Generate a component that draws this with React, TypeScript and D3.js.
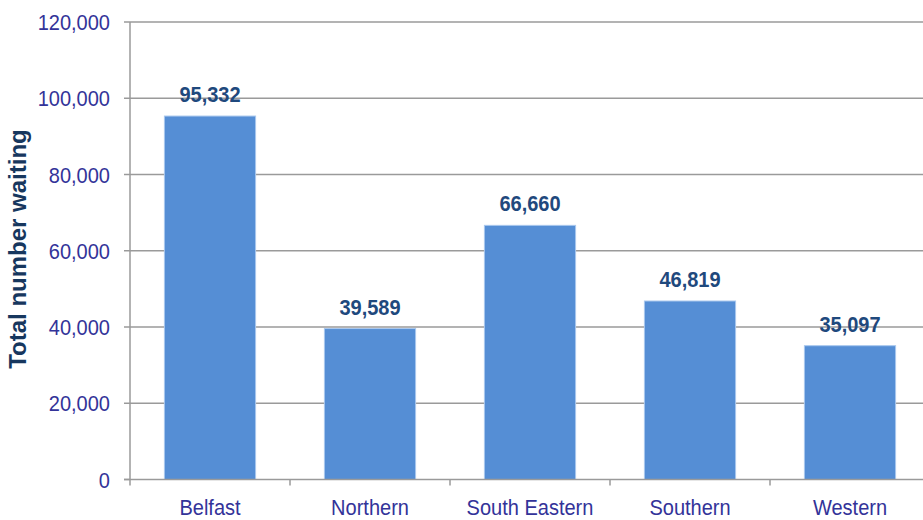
import React from "react";
import * as d3 from "d3";

const categories = ["Belfast", "Northern", "South Eastern", "Southern", "Western"];
const values = [95332, 39589, 66660, 46819, 35097];
const yTicks = [0, 20000, 40000, 60000, 80000, 100000, 120000];
const yTitle = "Total number waiting";

const W = 923;
const H = 520;
const left = 130;
const rightEdge = 930;
const top = 22;
const bottom = 479.5;

export default function App() {
  const x = d3
    .scaleBand<string>()
    .domain(categories)
    .range([left, rightEdge])
    .paddingInner(0.43)
    .paddingOuter(0.215);
  const y = d3.scaleLinear().domain([0, 120000]).range([bottom, top]);
  const fmt = d3.format(",");
  const step = x.step();
  const boundaries = d3.range(categories.length + 1).map((i) => left + i * step);
  const grid = "#9a9a9a";
  const sx = 0.91;

  return (
    <svg
      width={W}
      height={H}
      style={{ position: "absolute", left: 0, top: 0, background: "#fff" }}
      fontFamily="'Liberation Sans', Arial, sans-serif"
    >
      {yTicks.map((t) => (
        <g key={t}>
          {t > 0 && (
            <line x1={left} x2={W} y1={y(t)} y2={y(t)} stroke={grid} strokeWidth={1.5} />
          )}
          <line x1={left - 6} x2={left} y1={y(t)} y2={y(t)} stroke={grid} strokeWidth={1.5} />
          <text
            transform={`translate(${left - 20},${y(t) + 8}) scale(${sx},1)`}
            textAnchor="end"
            fontSize={22}
            fill="#333399"
          >
            {fmt(t)}
          </text>
        </g>
      ))}
      {categories.map((c, i) => (
        <g key={c}>
          <rect
            x={x(c)}
            y={y(values[i])}
            width={x.bandwidth()}
            height={y(0) - y(values[i])}
            fill="#558ED5"
            stroke="#A9C8EE"
            strokeWidth={1}
          />
          <text
            transform={`translate(${(x(c) as number) + x.bandwidth() / 2},${y(values[i]) - 14}) scale(${sx},1)`}
            textAnchor="middle"
            fontSize={22}
            fontWeight="bold"
            fill="#1F497D"
          >
            {fmt(values[i])}
          </text>
          <text
            transform={`translate(${(x(c) as number) + x.bandwidth() / 2},${515}) scale(${sx},1)`}
            textAnchor="middle"
            fontSize={22}
            fill="#333399"
          >
            {c}
          </text>
        </g>
      ))}
      <line x1={left} x2={left} y1={top} y2={bottom} stroke={grid} strokeWidth={1.5} />
      <line x1={left - 6} x2={W} y1={bottom} y2={bottom} stroke={grid} strokeWidth={1.5} />
      {boundaries.map((b) => (
        <line key={b} x1={b} x2={b} y1={bottom} y2={bottom + 6} stroke={grid} strokeWidth={1.5} />
      ))}
      <text
        transform={`translate(26,${(125 + 373) / 2}) rotate(-90)`}
        textAnchor="middle"
        fontSize={24}
        fontWeight="bold"
        fill="#17375E"
      >
        {yTitle}
      </text>
    </svg>
  );
}
